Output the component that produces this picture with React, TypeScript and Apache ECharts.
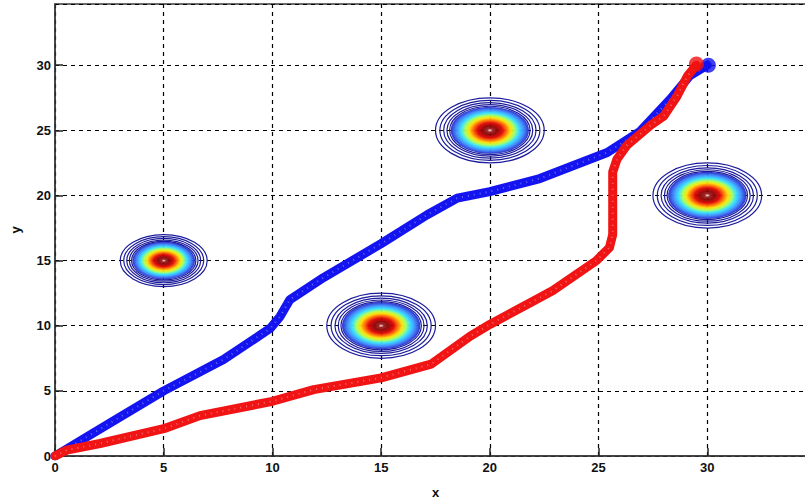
import React, { useEffect, useRef } from "react";
import * as echarts from "echarts";

// Path of the blue agent (x, y)
const blueX = [0, 2.5, 5, 7.75, 9.9, 10.35, 10.8, 12.35, 15, 17.1, 18.5, 20, 22.3, 23.85, 25.4, 26.9, 28.3, 29.2, 30];
const blueY = [0, 2.5, 5, 7.4, 9.8, 10.7, 12.0, 13.7, 16.3, 18.5, 19.8, 20.3, 21.3, 22.3, 23.3, 24.9, 27.4, 29.2, 30];

// Path of the red agent (x, y)
const redX = [0, 0.54, 2.07, 5, 6.67, 10, 11.9, 15, 17.3, 19.1, 20, 21.9, 22.9, 24.9, 25.5, 25.65, 25.65, 25.85, 26.3, 27.4, 28, 28.6, 29.1, 29.5];
const redY = [0, 0.45, 0.96, 2.1, 3.1, 4.2, 5.1, 6.0, 7.05, 9.2, 10.1, 11.8, 12.7, 15.0, 16.0, 17.0, 21.8, 22.8, 23.85, 25.4, 26.1, 27.6, 29.2, 30];

// End points
const blueEnd = [30.05, 30];
const redEnd = [29.5, 30.1];

// Obstacles (potential-field contours)
const obstacleX = [5, 15, 20, 30];
const obstacleY = [15, 10, 25, 20];
const obstacleR = [2, 2.5, 2.5, 2.5];

// Outer contour rings, as a fraction of the obstacle radius
const ringFractions = [1.0, 0.92, 0.85, 0.79, 0.74];
const fillFraction = 0.72;

const AXIS_COLOR = "#3a3a3a";
const FONT = "Liberation Sans";

export default function App() {
  const ref = useRef<HTMLDivElement>(null);

  useEffect(() => {
    const chart = echarts.init(ref.current!, null, { renderer: "svg" });
    const blueData = blueX.map((x, i) => [x, blueY[i]]);
    const redData = redX.map((x, i) => [x, redY[i]]);
    const obstacles = obstacleX.map((x, i) => [x, obstacleY[i], obstacleR[i]]);

    const jetStops = [
      { offset: 0, color: "#f6eeee" },
      { offset: 0.07, color: "#a02020" },
      { offset: 0.18, color: "#8a0000" },
      { offset: 0.32, color: "#e00000" },
      { offset: 0.43, color: "#ff7000" },
      { offset: 0.53, color: "#ffe000" },
      { offset: 0.63, color: "#a8ff58" },
      { offset: 0.74, color: "#30e0ff" },
      { offset: 0.86, color: "#3c8cff" },
      { offset: 1, color: "#2626c8" },
    ];

    const axisLabel = {
      color: "#111",
      fontWeight: "bold",
      fontSize: 13,
      fontFamily: FONT,
      showMaxLabel: false,
    };
    const splitLine = {
      show: true,
      lineStyle: { color: "#000", type: [4, 4], width: 1.2 },
    };

    const speckle = (data: number[][], z: number) => ({
      type: "line",
      data,
      showSymbol: false,
      symbol: "none",
      silent: true,
      z,
      lineStyle: { color: "#ffffff", width: 2, type: [1, 5], opacity: 0.35 },
    });

    chart.setOption({
      animation: false,
      grid: {
        left: 55,
        top: 4,
        width: 761,
        height: 457,
        show: true,
        borderColor: AXIS_COLOR,
        borderWidth: 1.5,
      },
      xAxis: {
        type: "value",
        min: 0,
        max: 35,
        interval: 5,
        name: "x",
        nameLocation: "middle",
        nameGap: 30,
        nameTextStyle: { color: "#111", fontWeight: "bold", fontSize: 13, fontFamily: FONT },
        axisLine: { show: true, lineStyle: { color: AXIS_COLOR, width: 1.5 } },
        axisTick: { inside: true, length: 8, lineStyle: { color: "#222", width: 1.5 } },
        axisLabel: { ...axisLabel, margin: 5 },
        splitLine,
      },
      yAxis: {
        type: "value",
        min: 0,
        max: 34.7,
        interval: 5,
        name: "y",
        nameLocation: "middle",
        nameGap: 33,
        nameRotate: 90,
        nameTextStyle: { color: "#111", fontWeight: "bold", fontSize: 13, fontFamily: FONT },
        axisLine: { show: true, lineStyle: { color: AXIS_COLOR, width: 1.5 } },
        axisTick: { inside: true, length: 8, lineStyle: { color: "#222", width: 1.5 } },
        axisLabel: { ...axisLabel, margin: 4 },
        splitLine,
      },
      series: [
        {
          type: "custom",
          data: obstacles,
          encode: { x: 0, y: 1 },
          z: 2,
          renderItem: (params: any, api: any) => {
            const c = api.coord([api.value(0), api.value(1)]);
            const r = api.value(2);
            const rx = api.size([r, 0])[0];
            const ry = api.size([0, r])[1];
            const children: any[] = [
              {
                type: "ellipse",
                shape: { cx: c[0], cy: c[1], rx: rx * fillFraction, ry: ry * fillFraction },
                style: {
                  fill: new echarts.graphic.RadialGradient(0.5, 0.5, 0.5, jetStops),
                  opacity: 0.95,
                },
              },
            ];
            ringFractions.forEach((f) => {
              children.push({
                type: "ellipse",
                shape: { cx: c[0], cy: c[1], rx: rx * f, ry: ry * f },
                style: { fill: "none", stroke: "#1c1c9c", lineWidth: 1.2 },
              });
            });
            return { type: "group", children };
          },
        },
        {
          type: "line",
          data: blueData,
          showSymbol: false,
          symbol: "none",
          z: 3,
          lineStyle: { color: "#1414f0", width: 9, cap: "round", join: "round" },
        },
        speckle(blueData, 3),
        {
          type: "line",
          data: redData,
          showSymbol: false,
          symbol: "none",
          z: 4,
          lineStyle: { color: "#f01414", width: 9, cap: "round", join: "round" },
        },
        speckle(redData, 4),
        {
          type: "scatter",
          data: [blueEnd],
          symbolSize: 15,
          z: 5,
          itemStyle: { color: "#1010f0" },
        },
        {
          type: "scatter",
          data: [redEnd],
          symbolSize: 15,
          z: 6,
          itemStyle: { color: "#f01010" },
        },
      ],
    });
    return () => chart.dispose();
  }, []);

  return (
    <div style={{ position: "fixed", left: 0, top: 0, width: 805, height: 504, overflow: "hidden", background: "#fff" }}>
      <div ref={ref} style={{ width: 830, height: 504 }} />
    </div>
  );
}
